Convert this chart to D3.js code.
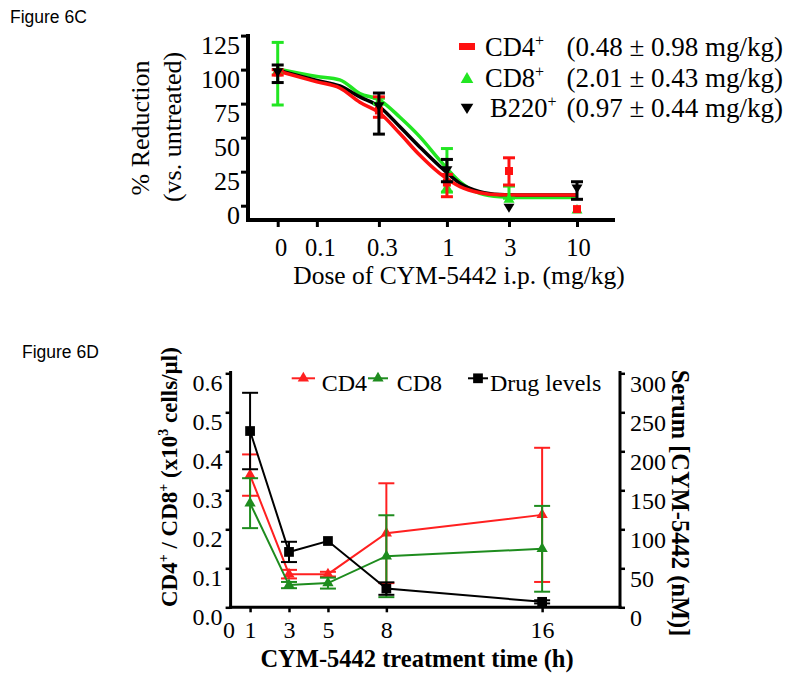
<!DOCTYPE html>
<html><head><meta charset="utf-8">
<script src="https://cdn.jsdelivr.net/npm/d3@7"></script>
<style>
body{margin:0;background:#fff;}
svg{display:block;}
text{font-family:"Liberation Serif","Times New Roman",serif;fill:#000;}
.fig{font-family:"Liberation Sans",Arial,sans-serif;}
</style></head>
<body>
<svg id="c" width="800" height="684"></svg>
<script>
// ---------- Figure 6C data ----------
const doseTicks = [0.05, 0.1, 0.3, 1, 3, 10];
const doseLabels = ["0", "0.1", "0.3", "1", "3", "10"];
const reductionTicks = [0, 25, 50, 75, 100, 125];
const doses = [0.05, 0.3, 1, 3, 10];
const cd4Mean = [98, 70, 17, 25.5, -2.5];
const cd4Lo   = [96, 65, 6.6, 15.2, -2.5];
const cd4Hi   = [100, 80, 23, 35.2, -2.5];
const cd8Mean = [100, 77, 14, 5.5, -2.5];
const cd8Lo   = [74, 75, 10, 5.5, -2.5];
const cd8Hi   = [120, 79, 42, 14.4, -2.5];
const b220Mean = [98, 73, 26, -1.5, 12.7];
const b220Lo   = [90.5, 52.6, 17.6, -1.5, 4.7];
const b220Hi   = [103.4, 82.8, 34, -1.5, 17.6];
// fitted dose-response curves
const fitDoses = [0.05, 0.1, 0.15, 0.214, 0.305, 0.435, 0.62, 0.88, 1.26, 1.79, 2.55, 4, 10];
const cd4Fit  = [99, 91, 86.5, 76, 68, 53, 37, 23.7, 14, 9.5, 8, 7.8, 7.8];
const cd8Fit  = [100.5, 95, 92.5, 82.4, 77.5, 65, 50.6, 33.5, 17.6, 9, 6.5, 6, 6];
const b220Fit = [99.5, 92, 88, 80, 72.5, 58, 43, 29, 16.4, 10.3, 8.2, 7.8, 7.8];
const legendC = ["CD4", "CD8", "B220"];
const legendCVals = ["(0.48 \u00b1 0.98 mg/kg)", "(2.01 \u00b1 0.43 mg/kg)", "(0.97 \u00b1 0.44 mg/kg)"];

// ---------- Figure 6D data ----------
const times = [1, 3, 5, 8, 16];
const timeTicks = [0, 1, 3, 5, 8, 16];
const cellTicks = [0, 0.1, 0.2, 0.3, 0.4, 0.5, 0.6];
const serumTicks = [0, 50, 100, 150, 200, 250, 300];
const cd4Cells = [0.339, 0.085, 0.085, 0.19, 0.237];
const cd4CellsErr = [0.053, 0.011, 0.006, 0.128, 0.172];
const cd8Cells = [0.267, 0.057, 0.062, 0.131, 0.15];
const cd8CellsErr = [0.064, 0.008, 0.014, 0.105, 0.11];
const drugLevels = [226, 71, 85, 24, 7];
const drugErr = [49, 13, 0, 8, 2];
const legendD = ["CD4", "CD8", "Drug levels"];

const svg = d3.select("#c");
const RED = "#ff1010", GREEN_C = "#22e622", BLACK = "#000";
const RED_D = "#ff2020", GREEN_D = "#1e8c1e";

// ===================== Figure 6C =====================
svg.append("text").attr("class","fig").attr("x",10).attr("y",23)
  .style("font-size","17.5px").text("Figure 6C");

const xC = d3.scaleLog().domain([0.05, 10]).range([277.7, 577]);
const yC = d3.scaleLinear().domain([0, 125]).range([205.7, 35.6]);
const axC = svg.append("g");
axC.append("line").attr("x1",248).attr("x2",248).attr("y1",34).attr("y2",222)
  .attr("stroke","#000").attr("stroke-width",4);
axC.append("line").attr("x1",246).attr("x2",615).attr("y1",220).attr("y2",220)
  .attr("stroke","#000").attr("stroke-width",4);

const yAxC = axC.append("g").attr("transform","translate(248,0)")
  .call(d3.axisLeft(yC).tickValues(reductionTicks).tickSize(7).tickPadding(1).tickSizeOuter(0));
yAxC.select(".domain").remove();
yAxC.selectAll(".tick line").attr("stroke-width",3);
yAxC.selectAll(".tick text").attr("dy",0).attr("y",18)
  .style("font-size","26px").attr("font-family",null);

const xAxC = axC.append("g").attr("transform","translate(0,220)")
  .call(d3.axisBottom(xC).tickValues(doseTicks).tickFormat((d,i)=>doseLabels[i]).tickSize(7).tickSizeOuter(0));
xAxC.select(".domain").remove();
xAxC.selectAll(".tick line").attr("stroke-width",3);
xAxC.selectAll(".tick text").attr("dy",0).attr("y",36).attr("dx",(d,i)=> i<3 ? 3 : 1)
  .style("font-size","24.5px").attr("font-family",null);

// axis titles
svg.append("text").attr("transform","translate(149,128) rotate(-90)")
  .attr("text-anchor","middle").style("font-size","26px").text("% Reduction");
svg.append("text").attr("transform","translate(181,127) rotate(-90)")
  .attr("text-anchor","middle").style("font-size","26px").text("(vs. untreated)");
svg.append("text").attr("x",459).attr("y",284).attr("text-anchor","middle")
  .style("font-size","25.5px").text("Dose of CYM-5442 i.p. (mg/kg)");

// series
const seriesC = [
  {name:"CD8", color:GREEN_C, mean:cd8Mean, lo:cd8Lo, hi:cd8Hi, fit:cd8Fit, sym:"up"},
  {name:"CD4", color:RED, mean:cd4Mean, lo:cd4Lo, hi:cd4Hi, fit:cd4Fit, sym:"sq"},
  {name:"B220", color:BLACK, mean:b220Mean, lo:b220Lo, hi:b220Hi, fit:b220Fit, sym:"down"}
];
const lineC = d3.line().x(d=>xC(d[0])).y(d=>yC(d[1])).curve(d3.curveMonotoneX);
[seriesC[0], seriesC[2], seriesC[1]].forEach(s=>{
  svg.append("path").datum(fitDoses.map((d,i)=>[d, s.fit[i]]))
    .attr("d",lineC).attr("fill","none").attr("stroke",s.color).attr("stroke-width",3.5);
});
function markC(g, s, x, y, scale){
  const k = scale||1;
  if(s.sym==="sq"){
    g.append("rect").attr("x",x-4*k).attr("y",y-4*k).attr("width",8*k).attr("height",8*k).attr("fill",s.color);
  } else if(s.sym==="up"){
    g.append("path").attr("d",`M${x},${y-5*k}L${x+5.5*k},${y+4.5*k}L${x-5.5*k},${y+4.5*k}Z`).attr("fill",s.color);
  } else {
    g.append("path").attr("d",`M${x},${y+5*k}L${x+5.5*k},${y-4*k}L${x-5.5*k},${y-4*k}Z`).attr("fill",s.color);
  }
}
seriesC.forEach(s=>{
  const g = svg.append("g");
  doses.forEach((d,i)=>{
    const x = xC(d);
    if(s.hi[i] !== s.lo[i]){
      g.append("line").attr("x1",x).attr("x2",x).attr("y1",yC(s.lo[i])).attr("y2",yC(s.hi[i]))
        .attr("stroke",s.color).attr("stroke-width",3);
      [s.lo[i], s.hi[i]].forEach(v=>{
        g.append("line").attr("x1",x-6).attr("x2",x+6).attr("y1",yC(v)).attr("y2",yC(v))
          .attr("stroke",s.color).attr("stroke-width",3);
      });
    }
    markC(g, s, x, yC(s.mean[i]));
  });
});

// legend C
const legRows = [{s:seriesC[1], y:56},{s:seriesC[0], y:86.7},{s:seriesC[2], y:117.3}];
legRows.forEach((r,i)=>{
  const g = svg.append("g");
  if(r.s.sym==="sq"){
    g.append("rect").attr("x",459).attr("y",r.y-13).attr("width",16).attr("height",7).attr("fill",r.s.color);
  } else {
    markC(g, r.s, 467, r.y-9, 1.15);
  }
  const t = g.append("text").attr("x", i===2 ? 490 : 485).attr("y", r.y).style("font-size","26.5px");
  t.append("tspan").text(legendC[i]);
  t.append("tspan").attr("dy",-10).style("font-size","16px").text("+");
  g.append("text").attr("x",783).attr("y",r.y).attr("text-anchor","end")
    .style("font-size","27px").text(legendCVals[i]);
});

// ===================== Figure 6D =====================
svg.append("text").attr("class","fig").attr("x",22).attr("y",358)
  .style("font-size","17.5px").text("Figure 6D");

const xD = d3.scaleLinear().domain([0, 20]).range([230.6, 620]);
const yL = d3.scaleLinear().domain([0, 0.6]).range([607.3, 373.3]);
const yR = d3.scaleLinear().domain([0, 300]).range([607.3, 373.3]);

const axD = svg.append("g");
axD.append("line").attr("x1",230.6).attr("x2",230.6).attr("y1",371).attr("y2",608.8)
  .attr("stroke","#000").attr("stroke-width",3);
axD.append("line").attr("x1",229).attr("x2",621.5).attr("y1",607.3).attr("y2",607.3)
  .attr("stroke","#000").attr("stroke-width",3);
axD.append("line").attr("x1",620).attr("x2",620).attr("y1",371).attr("y2",608.8)
  .attr("stroke","#000").attr("stroke-width",3);

const lAx = axD.append("g").attr("transform","translate(230.6,0)")
  .call(d3.axisLeft(yL).tickValues(cellTicks).tickFormat(d3.format(".1f")).tickSize(5).tickPadding(3).tickSizeOuter(0));
lAx.select(".domain").remove();
lAx.selectAll(".tick line").attr("stroke-width",2.5);
lAx.selectAll(".tick text").attr("dy",0).attr("y",17).style("font-size","24px").attr("font-family",null);

const rAx = axD.append("g").attr("transform","translate(620,0)")
  .call(d3.axisRight(yR).tickValues(serumTicks).tickSize(5).tickPadding(5).tickSizeOuter(0));
rAx.select(".domain").remove();
rAx.selectAll(".tick line").attr("stroke-width",2.5);
rAx.selectAll(".tick text").attr("dy",0).attr("y",18).style("font-size","24px").attr("font-family",null);

const bAx = axD.append("g").attr("transform","translate(0,607.3)")
  .call(d3.axisBottom(xD).tickValues(timeTicks).tickSize(5).tickSizeOuter(0));
bAx.select(".domain").remove();
bAx.selectAll(".tick line").attr("stroke-width",2.5).attr("opacity",d=>d===0?0:1);
bAx.selectAll(".tick text").attr("dy",0).attr("y",31).attr("dx",d=>d===0?-2:0)
  .style("font-size","24px").attr("font-family",null);

// titles
const lt = svg.append("text").attr("transform","translate(177,607) rotate(-90)")
  .attr("text-anchor","start").style("font-size","23px").style("font-weight","bold");
lt.append("tspan").text("CD4");
lt.append("tspan").attr("dy",-9).style("font-size","14px").text("+");
lt.append("tspan").attr("dy",9).text(" / CD8");
lt.append("tspan").attr("dy",-9).style("font-size","14px").text("+");
lt.append("tspan").attr("dy",9).text(" (x10");
lt.append("tspan").attr("dy",-9).style("font-size","14px").text("3");
lt.append("tspan").attr("dy",9).text(" cells/\u00b5l)");

svg.append("text").attr("transform","translate(672,503) rotate(90)")
  .attr("text-anchor","middle").style("font-size","24.5px").style("font-weight","bold")
  .text("Serum [CYM-5442 (nM)]");
svg.append("text").attr("x",417).attr("y",667).attr("text-anchor","middle")
  .style("font-size","24.5px").style("font-weight","bold").text("CYM-5442 treatment time (h)");

// series D
const seriesD = [
  {color:RED_D, vals:cd4Cells, err:cd4CellsErr, y:yL, sym:d3.symbolTriangle, size:55},
  {color:GREEN_D, vals:cd8Cells, err:cd8CellsErr, y:yL, sym:d3.symbolTriangle, size:55},
  {color:BLACK, vals:drugLevels, err:drugErr, y:yR, sym:d3.symbolSquare, size:95}
];
seriesD.forEach(s=>{
  const g = svg.append("g");
  const line = d3.line().x((d,i)=>xD(times[i])).y(d=>s.y(d));
  g.append("path").datum(s.vals).attr("d",line).attr("fill","none")
    .attr("stroke",s.color).attr("stroke-width",2);
  times.forEach((t,i)=>{
    const x = xD(t);
    if(s.err[i] > 0){
      const lo = s.y(s.vals[i]-s.err[i]), hi = s.y(s.vals[i]+s.err[i]);
      g.append("line").attr("x1",x).attr("x2",x).attr("y1",lo).attr("y2",hi)
        .attr("stroke",s.color).attr("stroke-width",2);
      [lo,hi].forEach(v=>g.append("line").attr("x1",x-8).attr("x2",x+8).attr("y1",v).attr("y2",v)
        .attr("stroke",s.color).attr("stroke-width",2));
    }
    g.append("path").attr("d",d3.symbol().type(s.sym).size(s.size)())
      .attr("transform",`translate(${x},${s.y(s.vals[i])})`).attr("fill",s.color);
  });
});

// legend D
const legDX = [[291.7,315,321.7],[368,388,396.7],[468,488,490]];
seriesD.forEach((s,i)=>{
  const [a,b,tx] = legDX[i];
  const y = 378.3;
  svg.append("line").attr("x1",a).attr("x2",b).attr("y1",y).attr("y2",y)
    .attr("stroke",s.color).attr("stroke-width",2);
  svg.append("path").attr("d",d3.symbol().type(s.sym).size(s.size)())
    .attr("transform",`translate(${(a+b)/2},${y})`).attr("fill",s.color);
  svg.append("text").attr("x",tx).attr("y",391).style("font-size","24px").text(legendD[i]);
});
</script>
</body></html>
